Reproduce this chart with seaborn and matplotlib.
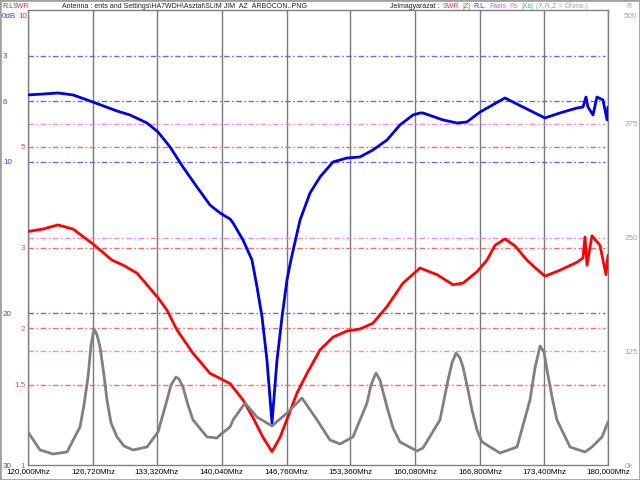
import matplotlib
matplotlib.use('Agg')
import matplotlib.pyplot as plt
import matplotlib.transforms as mtransforms
from matplotlib.patches import Rectangle
from matplotlib.ticker import NullLocator
import seaborn as sns

# ---------------- data ----------------
tick_freqs = [120.0, 126.72, 133.32, 140.04, 146.76, 153.36, 160.08, 166.80, 173.40, 180.0]
tick_labels = ["120,000Mhz", "126,720Mhz", "133,320Mhz", "140,040Mhz", "146,760Mhz",
               "153,360Mhz", "160,080Mhz", "166,800Mhz", "173,400Mhz", "180,000Mhz"]

swr_ticks = [5, 3, 2, 1.5, 1]
swr_tick_labels = ["5", "3", "2", "1.5", "1"]
rl_ticks = [3, 6, 10, 20, 30]
rl_tick_labels = ["3", "6", "10", "20", "30"]
r_ticks = [0, 125, 250, 375]
r_tick_labels = ["0k", "125", "250", "375"]

legend_items = ["Jelmagyar\u00e1zat :", "SWR", "|Z|", "R.L.", "F\u00e1zis", "Rs", "|Xs|", "(X,R,Z = Ohms.)"]
legend_colors = ["#202020", "#ff3030", "#30a030", "#3030e0", "#ff40ff", "#a0a0a0", "#40a0a0", "#a0a0a0"]

freq_swr = [120.0, 121.55, 123.10, 124.66, 126.72, 128.69, 129.83, 131.28, 133.45, 134.38,
            135.41, 137.07, 138.83, 139.86, 140.90, 142.24, 143.28, 144.31, 145.24, 146.07,
            146.79, 147.83, 148.86, 150.21, 151.55, 153.00, 154.34, 155.69, 157.14, 158.79,
            160.55, 162.31, 163.97, 165.00, 166.45, 167.48, 168.31, 169.34, 170.38, 171.62,
            172.50, 173.48, 175.03, 176.79, 177.41, 177.62, 177.83, 178.34, 179.17, 179.79,
            180.0]
swr = [3.26, 3.30, 3.37, 3.30, 3.06, 2.82, 2.75, 2.64, 2.33, 2.19,
       1.98, 1.76, 1.59, 1.55, 1.51, 1.39, 1.27, 1.15, 1.07, 1.15,
       1.26, 1.44, 1.59, 1.79, 1.91, 1.97, 1.99, 2.05, 2.23, 2.51,
       2.71, 2.62, 2.49, 2.51, 2.66, 2.82, 3.04, 3.14, 3.03, 2.82,
       2.71, 2.60, 2.68, 2.79, 2.85, 3.17, 2.75, 3.19, 3.04, 2.62,
       2.89]

freq_rl = [120.0, 121.55, 123.10, 124.66, 126.72, 129.21, 130.55, 132.31, 133.45, 134.69,
           136.03, 137.48, 138.83, 139.86, 140.90, 141.21, 142.24, 143.17, 143.69, 144.21,
           144.72, 145.24, 145.76, 146.28, 146.79, 147.20, 148.14, 149.17, 150.21, 151.55,
           153.00, 154.34, 155.69, 157.14, 158.48, 159.83, 160.55, 160.86, 162.93, 164.38,
           165.41, 166.76, 169.34, 171.21, 173.48, 175.03, 176.79, 177.41, 177.72, 177.93,
           178.45, 178.86, 179.48, 179.90, 180.0]
rl = [5.60, 5.54, 5.47, 5.60, 6.07, 6.66, 6.92, 7.45, 8.04, 9.03,
      10.35, 11.67, 12.86, 13.38, 13.78, 14.04, 15.16, 16.48, 18.26, 20.24,
      23.08, 27.23, 23.08, 20.24, 17.80, 16.48, 13.85, 12.07, 11.01, 10.02,
      9.76, 9.69, 9.23, 8.57, 7.58, 6.92, 6.79, 6.79, 7.25, 7.45,
      7.38, 6.73, 5.80, 6.40, 7.12, 6.79, 6.46, 6.40, 5.74, 6.40,
      6.92, 5.74, 5.93, 7.25, 6.40]

freq_r = [120.0, 121.24, 122.59, 124.03, 125.38, 125.79, 126.21, 126.52, 126.83, 127.14,
          127.45, 127.86, 128.17, 128.59, 129.21, 129.93, 130.86, 132.31, 133.45, 134.38,
          134.79, 135.31, 135.62, 136.03, 136.55, 137.07, 138.52, 139.55, 139.86, 140.90,
          141.21, 142.45, 143.69, 145.24, 146.79, 148.34, 149.90, 151.24, 152.28, 153.62,
          155.07, 155.48, 156.00, 156.41, 157.14, 157.76, 158.48, 160.24, 160.86, 162.62,
          163.45, 163.86, 164.28, 164.69, 165.00, 165.52, 165.93, 166.45, 166.97, 168.83,
          170.59, 171.93, 172.45, 172.97, 173.38, 173.69, 174.21, 174.72, 176.07, 177.62,
          178.34, 179.38, 180.0]
r_vals = [36.3, 16.5, 12.1, 14.3, 41.8, 65.9, 96.7, 131.9, 149.5, 142.9,
          129.7, 98.9, 71.4, 46.2, 30.8, 20.9, 16.5, 19.8, 36.3, 71.4,
          87.9, 96.7, 94.5, 85.7, 65.9, 49.5, 30.8, 29.7, 33.0, 41.8,
          49.5, 68.1, 52.7, 42.9, 57.1, 73.6, 49.5, 27.5, 23.1, 30.8,
          68.1, 87.9, 101.1, 93.4, 63.7, 40.7, 25.3, 15.4, 18.7, 49.5,
          93.4, 112.1, 123.1, 117.6, 107.7, 82.4, 60.4, 38.5, 25.3, 13.2,
          19.8, 71.4, 106.6, 130.8, 124.2, 104.4, 74.7, 49.5, 19.8, 14.3,
          19.8, 30.8, 47.3]

swr_ref = [1.5, 2, 3, 5]
rl_ref = [3, 6, 10, 20]
r_ref = [125, 250, 375]

# ---------------- style ----------------
sns.set_style('white')
plt.rcParams['font.family'] = ['Liberation Sans', 'DejaVu Sans']
FS = 5.8
HFS = 5.0
C_RED = '#ff0000'
C_BLUE = '#0000dd'
C_GREY = '#808080'

fig = plt.figure(figsize=(6.4, 4.8), dpi=100)
fig.patch.set_facecolor('white')
W, H = 640.0, 480.0
ax = fig.add_axes([28 / W, 15 / H, 580 / W, 455 / H])
ax.set_facecolor('white')
ax2 = ax.twinx()
ax3 = ax.twinx()

ax.set_xlim(120, 180)
ax.set_yscale('log')
ax.set_ylim(1, 10)
ax2.set_ylim(30, 0)
ax3.set_ylim(0, 500)
for a in (ax, ax2, ax3):
    a.autoscale(False)

# reference dash-dot lines (drawn on base axes, positioned by each scale)
dashdot = (0, (4.0, 1.8, 1.2, 1.8))
def hline(target, val, color):
    tr = mtransforms.blended_transform_factory(ax.transAxes, target.transData)
    ax.plot([0, 0.995], [val, val], transform=tr, color=color, lw=1.0, ls=dashdot, zorder=1)

for v in rl_ref:
    hline(ax2, v, '#6a6ae6')
for v in swr_ref:
    hline(ax, v, '#f07070')
for v in r_ref:
    hline(ax3, v, '#ee88ee')

# curves
sns.lineplot(x=freq_swr, y=swr, ax=ax, color=C_RED, lw=2, sort=False, estimator=None, zorder=3)
sns.lineplot(x=freq_rl, y=rl, ax=ax2, color=C_BLUE, lw=2, sort=False, estimator=None, zorder=3)
sns.lineplot(x=freq_r, y=r_vals, ax=ax3, color=C_GREY, lw=2, sort=False, estimator=None, zorder=3)

ax.set_xlim(120, 180)
ax.set_ylim(1, 10)
ax2.set_ylim(30, 0)
ax3.set_ylim(0, 500)

# x axis / vertical grid
ax.set_xticks(tick_freqs)
ax.set_xticklabels(tick_labels)
ax.grid(axis='x', color='#7a7a7a', lw=1.0, zorder=0)
ax.grid(axis='y', visible=False)
ax.tick_params(axis='x', length=0, pad=2.5, labelsize=FS, labelcolor='black')

# SWR ticks (left, red)
ax.set_yticks(swr_ticks)
ax.set_yticklabels(swr_tick_labels)
ax.yaxis.set_minor_locator(NullLocator())
ax.tick_params(axis='y', which='both', length=0, pad=2, labelsize=FS, labelcolor='#e05050')

# RL ticks (left, blue, left-aligned)
ax2.yaxis.tick_left()
ax2.set_yticks(rl_ticks)
ax2.set_yticklabels(rl_tick_labels)
ax2.tick_params(axis='y', length=0, pad=18, labelsize=FS, labelcolor='#4040e0')
for t in ax2.get_yticklabels():
    t.set_horizontalalignment('left')

# R ticks (right, grey)
ax3.set_yticks(r_ticks)
ax3.set_yticklabels(r_tick_labels)
ax3.tick_params(axis='y', length=0, pad=12, labelsize=FS, labelcolor='#a0a0a0')

for a in (ax, ax2, ax3):
    a.set_xlabel('')
    a.set_ylabel('')
for s in ax.spines.values():
    s.set_color('#808080')
    s.set_linewidth(1.0)
for a in (ax2, ax3):
    for s in a.spines.values():
        s.set_visible(False)

# header texts
def ftxt(x, y, s, color, ha='left', fs=None):
    return fig.text(x / W, 1 - y / H, s, color=color, fontsize=fs or HFS, ha=ha, va='center')

ftxt(2, 6, 'R.L', '#4040e0')
ftxt(13, 6, 'SWR', '#e03030')
ftxt(2, 16, '0dB', '#4040e0', fs=FS)
ftxt(18, 16, '10', '#e03030', fs=FS)
ftxt(62, 6, 'Antenna : ents and Settings\\HA7WDH\\Asztal\\SLIM JIM  AZ  \u00c1RB\u00d3CON..PNG', '#202020')

# legend row laid out left to right without overlaps
renderer = fig.canvas.get_renderer()
xpos = 390.0
for s, c in zip(legend_items, legend_colors):
    t = ftxt(xpos, 6, s, c)
    bb = t.get_window_extent(renderer)
    xpos += bb.width + 3.0

ftxt(626, 6, 'R', '#a0a0a0')
ftxt(624, 17, '500', '#a0a0a0', fs=FS)

fig.patches.append(Rectangle((0, 0), 1, 1, transform=fig.transFigure, fill=False,
                             edgecolor='#a0a0a0', lw=2))

fig.savefig('out.png', dpi=100, facecolor='white')
